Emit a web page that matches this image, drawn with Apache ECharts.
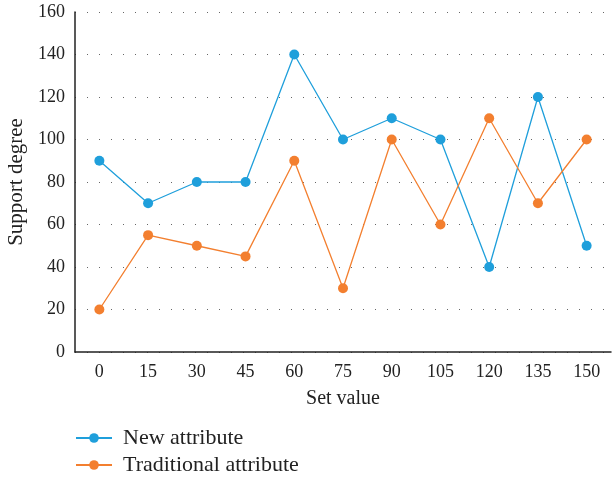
<!DOCTYPE html>
<html><head><meta charset="utf-8">
<script src="https://cdn.jsdelivr.net/npm/echarts@6/dist/echarts.min.js"></script>
<style>html,body{margin:0;padding:0;background:#fff}#c{width:613px;height:479px}</style>
</head><body><div id="c"></div>
<script>
const categories = ['0','15','30','45','60','75','90','105','120','135','150'];
const newAttribute = [90,70,80,80,140,100,110,100,40,120,50];
const traditionalAttribute = [20,55,50,45,90,30,100,60,110,70,100];
const yTicks = {min:0, max:160, interval:20};
const font = 'Liberation Serif';
const legendText = {fontFamily:font,fontSize:22,color:'#222',padding:[0,0,0,6]};
const chart = echarts.init(document.getElementById('c'));
chart.setOption({
  animation:false,
  textStyle:{fontFamily:font},
  grid:{left:75,right:2,top:12,bottom:127,outerBoundsMode:'none',containLabel:false},
  legend:[
    {left:75,top:427,padding:0,itemWidth:36,itemHeight:12,textStyle:legendText,data:['New attribute']},
    {left:75,top:454,padding:0,itemWidth:36,itemHeight:12,textStyle:legendText,data:['Traditional attribute']}
  ],
  xAxis:{
    type:'category', data:categories, boundaryGap:true,
    name:'Set value', nameLocation:'middle', nameGap:37,
    nameTextStyle:{fontFamily:font,fontSize:20,color:'#222'},
    axisLine:{lineStyle:{color:'#222',width:1.5}},
    axisTick:{show:false},
    axisLabel:{fontFamily:font,fontSize:18,color:'#222',margin:11}
  },
  yAxis:{
    type:'value', min:yTicks.min, max:yTicks.max, interval:yTicks.interval,
    name:'Support degree', nameLocation:'middle', nameGap:46,
    nameTextStyle:{fontFamily:font,fontSize:21,color:'#222'},
    axisLine:{show:true,lineStyle:{color:'#222',width:1.5}},
    axisTick:{show:false},
    axisLabel:{fontFamily:font,fontSize:18,color:'#222',margin:10},
    splitLine:{show:true,lineStyle:{color:'#666',width:1,type:[1,11]}}
  },
  series:[
    {name:'New attribute',type:'line',data:newAttribute,symbol:'circle',symbolSize:10,
     itemStyle:{color:'#1f9fdb'},lineStyle:{color:'#1f9fdb',width:1.3}},
    {name:'Traditional attribute',type:'line',data:traditionalAttribute,symbol:'circle',symbolSize:10,
     itemStyle:{color:'#f37f2f'},lineStyle:{color:'#f37f2f',width:1.3}}
  ]
});
</script></body></html>
